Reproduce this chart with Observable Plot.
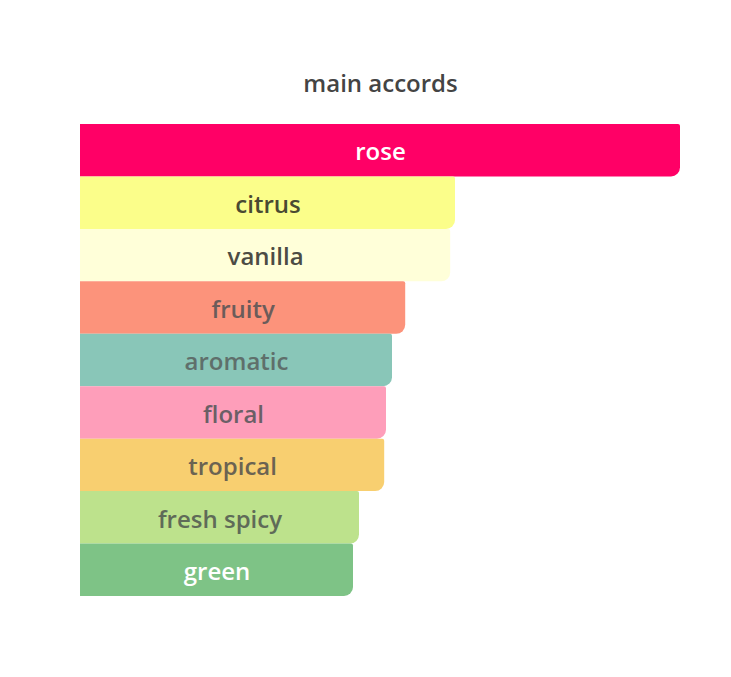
<!DOCTYPE html>
<html>
<head>
<meta charset="utf-8">
<script src="https://cdn.jsdelivr.net/npm/d3@7"></script>
<script src="https://cdn.jsdelivr.net/npm/@observablehq/plot@0.6"></script>
<style>
  html, body { margin: 0; padding: 0; background: #fff; }
  #chart svg { display: block; }
</style>
</head>
<body>
<div id="chart"></div>
<script>
const accords = ["rose", "citrus", "vanilla", "fruity", "aromatic", "floral", "tropical", "fresh spicy", "green"];
const strengths = [100, 62.5, 61.7, 54.2, 52.0, 51.0, 50.7, 46.5, 45.5];
const barColors = ["#ff0066", "#fbfe8a", "#ffffd9", "#fc937b", "#89c6b8", "#fe9eba", "#f8cf70", "#bde28c", "#7ec386"];
const labelColors = ["#ffffff", "#4a4a32", "#4c4c44", "#6b5c5a", "#5f6f6b", "#6b5f66", "#6b6352", "#5f6b58", "#ffffff"];
const title = "main accords";

const data = accords.map((a, i) => ({accord: a, value: strengths[i], color: barColors[i], label: labelColors[i]}));

const chart = Plot.plot({
  width: 731,
  height: 677,
  marginLeft: 80,
  marginRight: 51,
  marginTop: 124,
  marginBottom: 81,
  x: {domain: [0, 100], axis: null},
  y: {domain: accords, axis: null, padding: 0, round: false},
  style: {fontFamily: "'Open Sans', sans-serif", background: "#fff"},
  marks: [
    Plot.barX(data, {x: "value", y: "accord", fill: "color", rx2y2: 9, rx2y1: 2}),
    Plot.text(data, {
      x: d => d.value / 2, y: "accord", text: "accord", fill: "label",
      fontSize: 24, fontWeight: 600, textAnchor: "middle", dy: 2
    }),
    Plot.text([title], {
      frameAnchor: "top", lineAnchor: "middle", dy: -40, text: d => d,
      fontSize: 24, fontWeight: 600, fill: "#444"
    })
  ]
});
document.getElementById("chart").appendChild(chart);
</script>
</body>
</html>
